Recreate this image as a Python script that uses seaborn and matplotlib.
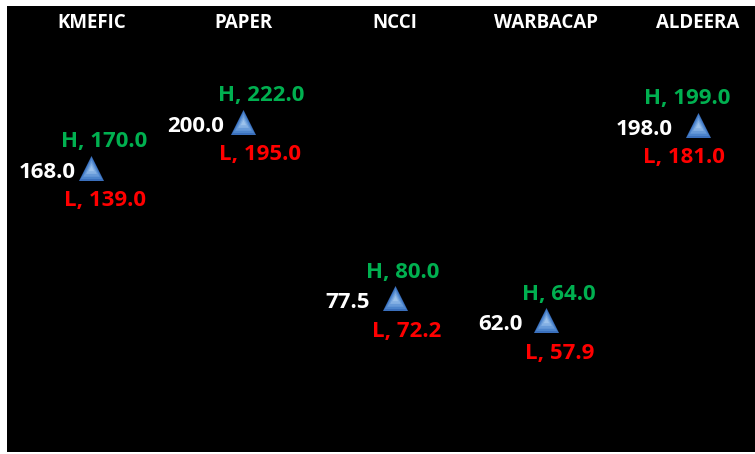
import matplotlib
matplotlib.use("Agg")
import matplotlib.pyplot as plt
import matplotlib.transforms as mtransforms
import seaborn as sns
import pandas as pd

categories = ["KMEFIC", "PAPER", "NCCI", "WARBACAP", "ALDEERA"]
close_vals = [168.0, 200.0, 77.5, 62.0, 198.0]
high_vals = [170.0, 222.0, 80.0, 64.0, 199.0]
low_vals = [139.0, 195.0, 72.2, 57.9, 181.0]

# label offsets in pixels (style)
h_dx = [13, 18.5, 8, 13, -11]
l_dx = [14, 16.5, 12, 13, -14]
v_dx = [-15.5, -18.5, -25, -24, -25]

sns.set_theme(style="dark")
plt.rcParams["font.family"] = ["Open Sans", "DejaVu Sans"]

df = pd.DataFrame({"cat": categories, "close": close_vals})

fig = plt.figure(figsize=(7.55, 4.54), dpi=100, facecolor="white")
ax = fig.add_axes([7 / 755, 2 / 454, 748 / 755, 446 / 454])
ax.set_facecolor("black")

layers = [(324, "#3A6FBC"), (230, "#4C84CC"), (140, "#679AD9"), (60, "#84B0E4"), (15, "#9CC2EC")]
for s, c in layers:
    sns.scatterplot(data=df, x="cat", y="close", marker="^", s=s, color=c,
                    linewidth=0, ax=ax, zorder=3)

ax.set_xlim(-0.557, 4.377)
ax.set_ylim(-29.6, 280.7)
ax.set_xticks([])
ax.set_yticks([])
ax.set_xlabel("")
ax.set_ylabel("")
for sp in ax.spines.values():
    sp.set_visible(False)

px = 72 / 100.0
trans = mtransforms.blended_transform_factory(ax.transData, ax.transAxes)
for i, cat in enumerate(categories):
    ax.text(i, 1 - 16.5 / 446, cat, transform=trans, ha="center", va="center",
            color="white", fontsize=13.5, fontweight="bold")
    ax.annotate(f"H, {high_vals[i]:.1f}", (i, close_vals[i]), xytext=(h_dx[i] * px, 26 * px),
                textcoords="offset points", ha="center", va="center",
                color="#00B050", fontsize=16, fontweight="bold")
    ax.annotate(f"L, {low_vals[i]:.1f}", (i, close_vals[i]), xytext=(l_dx[i] * px, -33 * px),
                textcoords="offset points", ha="center", va="center",
                color="#FF0000", fontsize=16, fontweight="bold")
    ax.annotate(f"{close_vals[i]:.1f}", (i, close_vals[i]), xytext=(v_dx[i] * px, -4.5 * px),
                textcoords="offset points", ha="right", va="center",
                color="white", fontsize=16, fontweight="bold")

fig.savefig("out.png", dpi=100, facecolor="white")
